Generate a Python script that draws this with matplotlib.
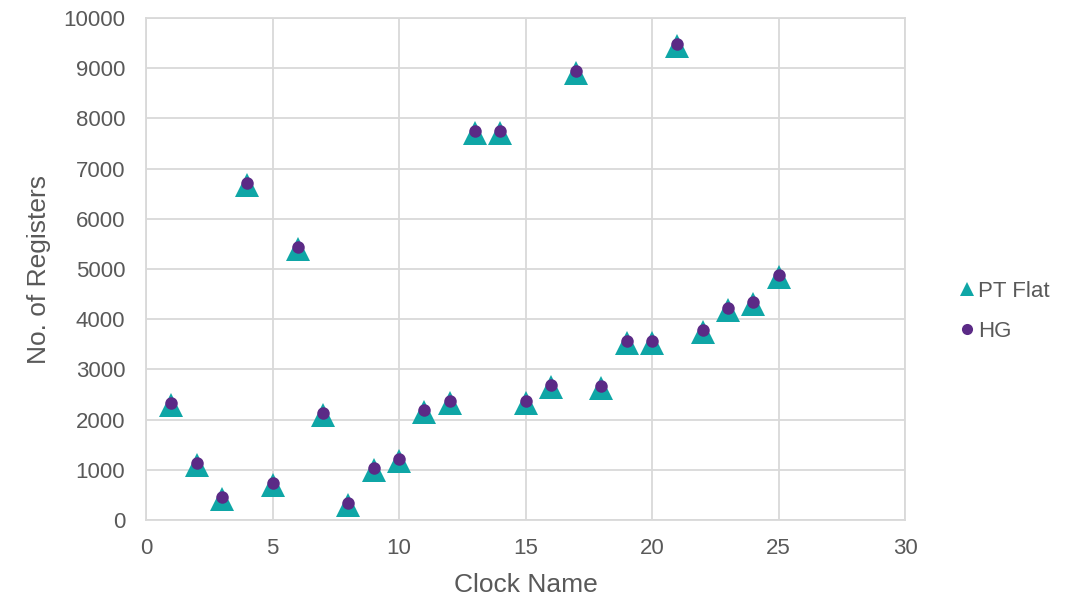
import matplotlib
matplotlib.use('Agg')
import matplotlib.pyplot as plt

# data
clocks = list(range(1, 26))
hg = [2340, 1145, 455, 6720, 745, 5445, 2130, 345, 1035, 1210,
      2195, 2380, 7740, 7740, 2365, 2680, 8935, 2670, 3570, 3570,
      9480, 3790, 4225, 4335, 4875]
pt_flat = [2300, 1105, 415, 6680, 705, 5405, 2090, 305, 995, 1170,
           2155, 2340, 7700, 7700, 2325, 2640, 8895, 2630, 3530, 3530,
           9440, 3750, 4185, 4295, 4835]

x_ticks = [0, 5, 10, 15, 20, 25, 30]
y_ticks = list(range(0, 10001, 1000))

teal = '#0FA6A6'
purple = '#5B2A86'
text_col = '#595959'
grid_col = '#D9D9D9'

plt.rcParams['font.family'] = ['Liberation Sans', 'DejaVu Sans']

fig = plt.figure(figsize=(10.76, 5.98), dpi=100)
ax = fig.add_axes([0.1357, 0.1304, 0.7054, 0.8395])

ax.plot(clocks, pt_flat, linestyle='none', marker='^', ms=17, mew=0,
        color=teal, label='PT Flat', zorder=3)
ax.plot(clocks, hg, linestyle='none', marker='o', ms=9, mew=0,
        color=purple, label='HG', zorder=4)

ax.set_xlim(0, 30)
ax.set_ylim(0, 10000)
ax.set_xticks(x_ticks)
ax.set_yticks(y_ticks)
ax.grid(True, color=grid_col, linewidth=1.3)
ax.set_axisbelow(True)
for s in ax.spines.values():
    s.set_color(grid_col)
    s.set_linewidth(1.3)
ax.tick_params(length=0, labelsize=16, colors=text_col)
ax.tick_params(axis='y', pad=15)
ax.tick_params(axis='x', pad=13)

ax.set_xlabel('Clock Name', fontsize=19, color=text_col, labelpad=10)
ax.set_ylabel('No. of Registers', fontsize=19, color=text_col, labelpad=9)

leg = ax.legend(loc='center left', bbox_to_anchor=(0.87, 0.479),
                bbox_transform=fig.transFigure, frameon=False,
                fontsize=16, handletextpad=0.0, labelspacing=0.85,
                handlelength=1.0)
leg.legend_handles[0].set_markersize(10)
leg.legend_handles[1].set_markersize(8)
for t in leg.get_texts():
    t.set_color(text_col)

fig.savefig('out.png', dpi=100)
